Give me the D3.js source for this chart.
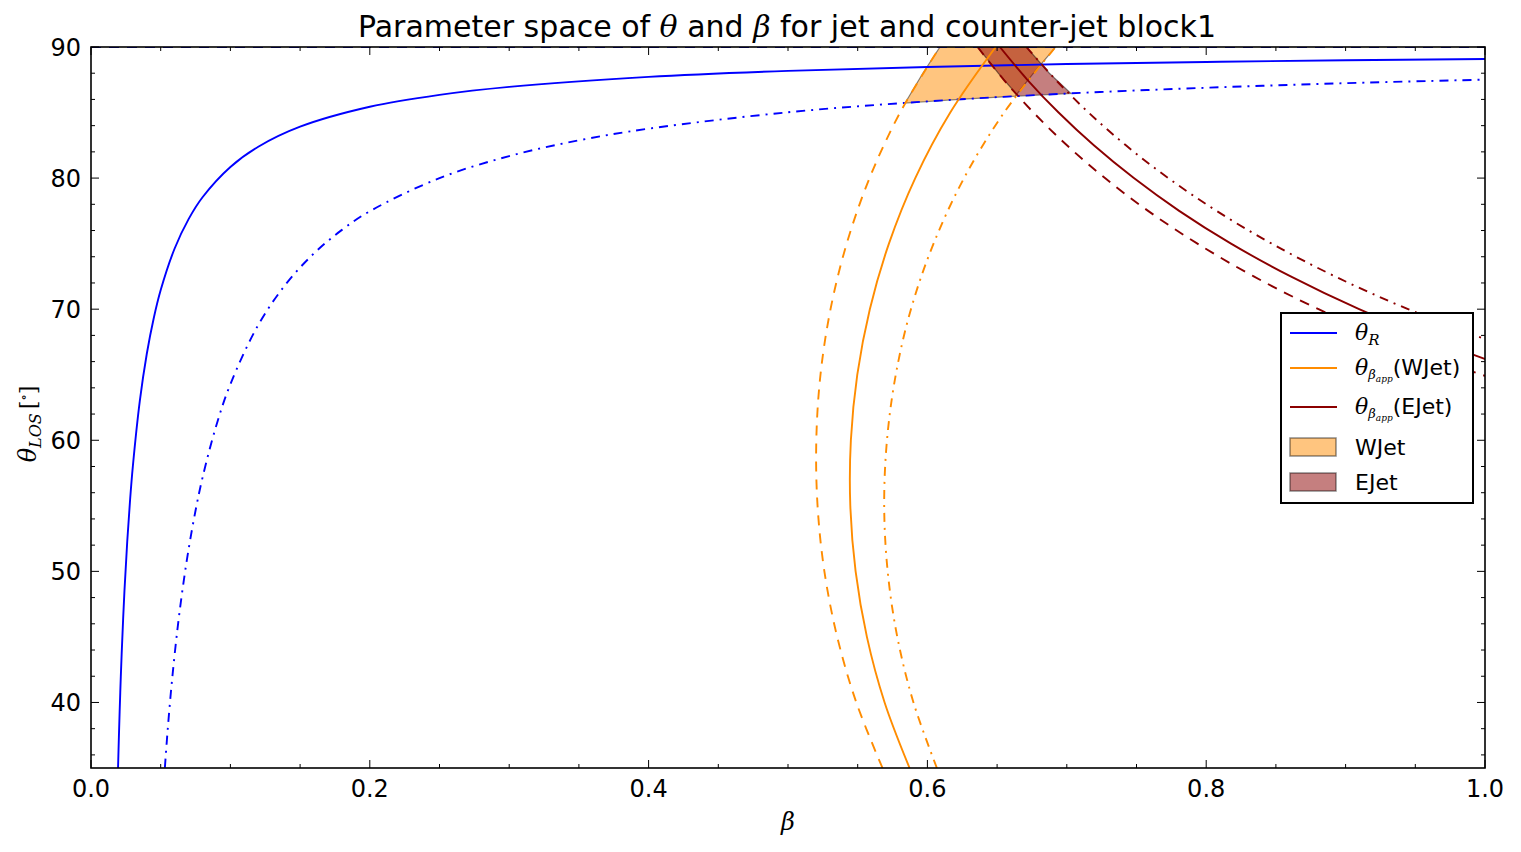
<!DOCTYPE html>
<html lang="en">
<head>
  <meta charset="UTF-8">
  <title>Parameter space of theta and beta</title>
  <script src="https://d3js.org/d3.v7.min.js"></script>
  <style>
    body { margin: 0; background: #fff; }
    text { font-family: "DejaVu Sans", sans-serif; }
    .math { font-family: "DejaVu Serif", serif; font-style: italic; }
  </style>
</head>
<body>
  <svg id="chart" width="1521" height="852"></svg>
  <script>
    // theta_R curves (beta -> theta)
    const rSolidBeta  = [0.0194, 0.020, 0.021, 0.022, 0.024, 0.026, 0.028, 0.030, 0.035, 0.040, 0.045, 0.050, 0.06, 0.07, 0.08, 0.10, 0.12, 0.15, 0.20, 0.25, 0.30, 0.40, 0.50, 0.60, 0.70, 0.80, 0.90, 1.00];
    const rSolidTheta = [35.0, 37.35, 40.79, 43.72, 48.51, 52.30, 55.40, 57.99, 62.98, 66.58, 69.31, 71.46, 74.63, 76.87, 78.54, 80.85, 82.39, 83.92, 85.44, 86.35, 86.96, 87.72, 88.18, 88.48, 88.70, 88.86, 88.99, 89.09];
    const rDashDotBeta  = [0.053, 0.055, 0.058, 0.062, 0.066, 0.070, 0.075, 0.080, 0.09, 0.10, 0.12, 0.14, 0.16, 0.18, 0.20, 0.25, 0.30, 0.35, 0.40, 0.50, 0.60, 0.70, 0.80, 0.90, 1.00];
    const rDashDotTheta = [35.03, 37.90, 41.56, 45.57, 48.88, 51.68, 54.64, 57.15, 61.17, 64.28, 68.80, 71.94, 74.26, 76.05, 77.47, 80.00, 81.68, 82.88, 83.77, 85.02, 85.85, 86.45, 86.89, 87.24, 87.51];
    const rDashedBeta  = [0.0, 1.0];
    const rDashedTheta = [90, 90];

    // theta_beta_app, WJet (theta -> beta)
    const wTheta   = [35, 40, 45, 50, 55, 60, 65, 70, 75, 80, 85, 90];
    const wSolid   = [0.5872, 0.5693, 0.5566, 0.5485, 0.5447, 0.5451, 0.5497, 0.5587, 0.5724, 0.5913, 0.6164, 0.649];
    const wDashed  = [0.5678, 0.5490, 0.5353, 0.5261, 0.5212, 0.5203, 0.5233, 0.5305, 0.5421, 0.5585, 0.5804, 0.609];
    const wDashDot = [0.6068, 0.5900, 0.5784, 0.5715, 0.5690, 0.5710, 0.5773, 0.5882, 0.6044, 0.6263, 0.6550, 0.692];

    // theta_beta_app, EJet (theta -> beta)
    const eTheta   = [90, 87.5, 85, 82.5, 80, 77.5, 75, 72.5, 70, 67.5, 65, 62.5];
    const eSolid   = [0.652, 0.6717, 0.6941, 0.7194, 0.7481, 0.7806, 0.8178, 0.8606, 0.9097, 0.9668, 1.0336, 1.1126];
    const eDashed  = [0.636, 0.6548, 0.6761, 0.7001, 0.7274, 0.7583, 0.7937, 0.8341, 0.8806, 0.9346, 0.9976, 1.0718];
    const eDashDot = [0.671, 0.6920, 0.7156, 0.7424, 0.7728, 0.8074, 0.8470, 0.8924, 0.9448, 1.0058, 1.0776, 1.1625];

    // allowed regions
    const wFillBeta  = [0.584, 0.5967, 0.609, 0.692, 0.6761, 0.663, 0.62];
    const wFillTheta = [85.73, 88, 90, 90, 88, 86.25, 85.99];
    const eFillBeta  = [0.665, 0.6508, 0.636, 0.671, 0.6875, 0.703];
    const eFillTheta = [86.26, 88, 90, 90, 88, 86.45];

    const xTicks = [0, 0.2, 0.4, 0.6, 0.8, 1.0];
    const yTicks = [40, 50, 60, 70, 80, 90];

    const width = 1521, height = 852;
    const margin = { top: 47, right: 36, bottom: 84, left: 91 };
    const svg = d3.select("#chart");

    const x = d3.scaleLinear().domain([0, 1]).range([margin.left, width - margin.right]);
    const y = d3.scaleLinear().domain([35, 90]).range([height - margin.bottom, margin.top]);

    svg.append("clipPath").attr("id", "plotclip")
      .append("rect")
      .attr("x", x(0)).attr("y", y(90))
      .attr("width", x(1) - x(0)).attr("height", y(35) - y(90));

    const plot = svg.append("g").attr("clip-path", "url(#plotclip)");

    const zip = (bs, ts) => bs.map((b, i) => [b, ts[i]]);
    const line = d3.line().x(d => x(d[0])).y(d => y(d[1])).curve(d3.curveCatmullRom);
    const poly = d3.line().x(d => x(d[0])).y(d => y(d[1]));

    const blue = "#0000ff", orange = "#ff8c00", red = "#8b0000";
    const dashDot = "9,6,2,6", dashed = "10,8";

    // filled regions
    plot.append("path").attr("d", poly(zip(wFillBeta, wFillTheta)) + "Z")
      .attr("fill", orange).attr("fill-opacity", 0.5)
      .attr("stroke", "#000").attr("stroke-opacity", 0.45).attr("stroke-width", 1.2);
    plot.append("path").attr("d", poly(zip(eFillBeta, eFillTheta)) + "Z")
      .attr("fill", red).attr("fill-opacity", 0.5)
      .attr("stroke", "#000").attr("stroke-opacity", 0.45).attr("stroke-width", 1.2);

    const curves = [
      { pts: zip(rSolidBeta, rSolidTheta), color: blue, dash: null },
      { pts: zip(rDashDotBeta, rDashDotTheta), color: blue, dash: dashDot },
      { pts: zip(rDashedBeta, rDashedTheta), color: blue, dash: dashed },
      { pts: zip(wSolid, wTheta), color: orange, dash: null },
      { pts: zip(wDashed, wTheta), color: orange, dash: dashed },
      { pts: zip(wDashDot, wTheta), color: orange, dash: dashDot },
      { pts: zip(eSolid, eTheta), color: red, dash: null },
      { pts: zip(eDashed, eTheta), color: red, dash: dashed },
      { pts: zip(eDashDot, eTheta), color: red, dash: dashDot }
    ];
    curves.forEach(c => {
      plot.append("path").attr("d", line(c.pts))
        .attr("fill", "none").attr("stroke", c.color)
        .attr("stroke-width", 1.9)
        .attr("stroke-dasharray", c.dash);
    });

    // axes (classic style: ticks inside, on all sides)
    const xMinor = d3.range(0, 1.0001, 0.05);
    const yMinor = d3.range(36, 90.001, 2);
    const ax = svg.append("g").attr("stroke", "#000").attr("stroke-width", 1);
    xMinor.forEach(v => {
      const major = xTicks.some(t => Math.abs(t - v) < 1e-6);
      const L = major ? 8 : 4;
      ax.append("line").attr("x1", x(v)).attr("x2", x(v)).attr("y1", y(35)).attr("y2", y(35) - L);
      ax.append("line").attr("x1", x(v)).attr("x2", x(v)).attr("y1", y(90)).attr("y2", y(90) + L);
    });
    yMinor.forEach(v => {
      const L = v % 10 === 0 ? 8 : 4;
      ax.append("line").attr("y1", y(v)).attr("y2", y(v)).attr("x1", x(0)).attr("x2", x(0) + L);
      ax.append("line").attr("y1", y(v)).attr("y2", y(v)).attr("x1", x(1)).attr("x2", x(1) - L);
    });
    svg.append("rect")
      .attr("x", x(0)).attr("y", y(90))
      .attr("width", x(1) - x(0)).attr("height", y(35) - y(90))
      .attr("fill", "none").attr("stroke", "#000").attr("stroke-width", 1.6);

    svg.append("g").selectAll("text").data(xTicks).join("text")
      .attr("x", d => x(d)).attr("y", y(35) + 29)
      .attr("text-anchor", "middle").attr("font-size", 24)
      .text(d => d.toFixed(1));
    svg.append("g").selectAll("text").data(yTicks).join("text")
      .attr("x", x(0) - 10).attr("y", d => y(d) + 9)
      .attr("text-anchor", "end").attr("font-size", 24)
      .text(d => d);

    // labels
    const title = svg.append("text").attr("x", (x(0) + x(1)) / 2 - 1).attr("y", 37)
      .attr("text-anchor", "middle").attr("font-size", 30);
    title.append("tspan").text("Parameter space of ");
    title.append("tspan").attr("class", "math").text("θ");
    title.append("tspan").text(" and ");
    title.append("tspan").attr("class", "math").text("β");
    title.append("tspan").text(" for jet and counter-jet block1");

    svg.append("text").attr("class", "math").attr("x", (x(0) + x(1)) / 2).attr("y", 830)
      .attr("text-anchor", "middle").attr("font-size", 24).text("β");

    const yl = svg.append("text").attr("transform", `translate(36, 424) rotate(-90)`)
      .attr("text-anchor", "middle").attr("font-size", 24);
    yl.append("tspan").attr("class", "math").text("θ");
    yl.append("tspan").attr("class", "math").attr("font-size", 16).attr("dy", 5).text("LOS");
    yl.append("tspan").attr("font-family", "DejaVu Serif").attr("font-size", 22).attr("dy", -5).attr("dx", 4).text("[");
    yl.append("tspan").attr("font-family", "DejaVu Serif").attr("font-size", 13).attr("dy", -8).text("∘");
    yl.append("tspan").attr("font-family", "DejaVu Serif").attr("font-size", 22).attr("dy", 8).text("]");

    // legend
    const lg = svg.append("g").attr("transform", "translate(1281, 313)");
    lg.append("rect").attr("width", 192).attr("height", 190)
      .attr("fill", "#fff").attr("stroke", "#000").attr("stroke-width", 2);
    const items = [
      { type: "line", color: blue, label: "R" },
      { type: "line", color: orange, label: "(WJet)" },
      { type: "line", color: red, label: "(EJet)" },
      { type: "patch", color: orange, label: "WJet" },
      { type: "patch", color: red, label: "EJet" }
    ];
    const rowY = [20, 55, 94, 134, 169];
    items.forEach((it, i) => {
      const g = lg.append("g").attr("transform", `translate(0, ${rowY[i]})`);
      if (it.type === "line") {
        g.append("line").attr("x1", 9).attr("x2", 56).attr("y1", 0).attr("y2", 0)
          .attr("stroke", it.color).attr("stroke-width", 2);
        const t = g.append("text").attr("x", 74).attr("y", 7).attr("font-size", 22);
        t.append("tspan").attr("class", "math").text("θ");
        if (i === 0) {
          t.append("tspan").attr("class", "math").attr("font-size", 15).attr("dy", 5).text("R");
        } else {
          t.append("tspan").attr("class", "math").attr("font-size", 13).attr("dy", 4).text("β");
          t.append("tspan").attr("class", "math").attr("font-size", 9).attr("dy", 3).text("app");
          t.append("tspan").attr("dy", -7).attr("font-size", 22).text(it.label);
        }
      } else {
        g.append("rect").attr("x", 9).attr("y", -9).attr("width", 46).attr("height", 18)
          .attr("fill", it.color).attr("fill-opacity", 0.5)
          .attr("stroke", "#000").attr("stroke-opacity", 0.45).attr("stroke-width", 1.5);
        g.append("text").attr("x", 74).attr("y", 8).attr("font-size", 22).text(it.label);
      }
    });
  </script>
</body>
</html>
